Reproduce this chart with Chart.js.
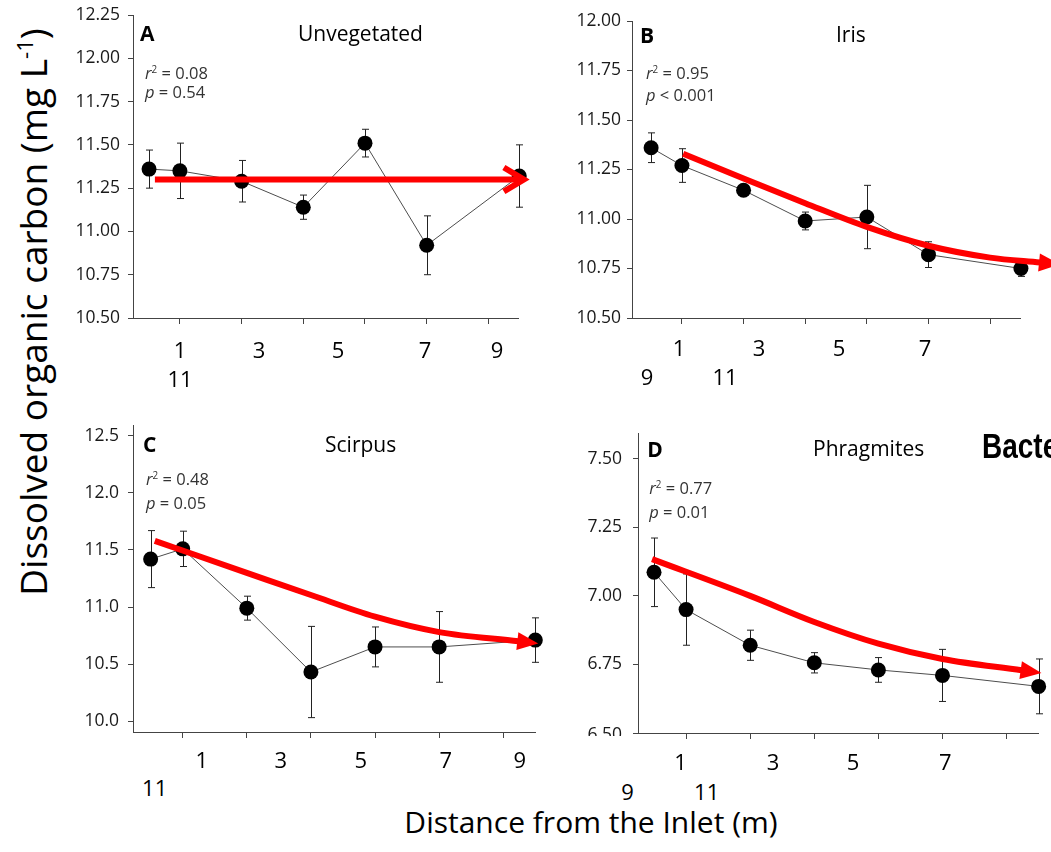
<!DOCTYPE html>
<html>
<head>
<meta charset="utf-8">
<title>Dissolved organic carbon along the beds</title>
<script src="https://cdn.jsdelivr.net/npm/chart.js@4.4.1/dist/chart.umd.min.js"></script>
<style>
  html, body { margin: 0; padding: 0; background: #fff; }
  body { position: relative; width: 1051px; height: 852px; overflow: hidden; font-family: 'Open Sans', sans-serif; }
  canvas { position: absolute; }
  .txt { position: absolute; white-space: nowrap; line-height: 1; color: #000; }
  .stat { color: #333; }
  .stat i { font-style: italic; }
  sup { font-size: 0.6em; line-height: 0; vertical-align: 0.6em; }
  .clip { position: absolute; overflow: hidden; }
</style>
</head>
<body>
<script>
// distance from the inlet (m) of each sampling point, same for all beds
var distance = [0, 1, 3, 5, 7, 9, 12];
var xTicks = [1, 3, 5, 7, 9, 11];
var xTickLabels = ['1', '3', '5', '7', '9', '11'];

// A - unvegetated
var docA = [11.36, 11.35, 11.29, 11.14, 11.51, 10.92, 11.32];
var errA = [0.11, 0.16, 0.12, 0.07, 0.08, 0.17, 0.18];
var trendAx = [0.19, 12.15];
var trendAy = [11.30, 11.30];
var yTicksA = [10.5, 10.75, 11, 11.25, 11.5, 11.75, 12, 12.25];

// B - iris
var docB = [11.36, 11.27, 11.145, 10.99, 11.01, 10.82, 10.75];
var errB = [0.075, 0.085, 0.02, 0.045, 0.16, 0.065, 0.04];
var trendBx = [1.04, 3, 5, 7, 9, 11, 12.62];
var trendBy = [11.33, 11.205, 11.08, 10.96, 10.865, 10.805, 10.78];
var yTicksB = [10.5, 10.75, 11, 11.25, 11.5, 11.75, 12];

// C - scirpus
var docC = [11.42, 11.51, 10.99, 10.43, 10.65, 10.65, 10.71];
var errC = [0.25, 0.155, 0.105, 0.40, 0.175, 0.31, 0.195];
var trendCx = [0.13, 3, 5, 7, 9, 11.47];
var trendCy = [11.58, 11.30, 11.105, 10.915, 10.78, 10.70];
var yTicksC = [10, 10.5, 11, 11.5, 12, 12.5];

// D - phragmites
var docD = [7.086, 6.95, 6.82, 6.756, 6.73, 6.71, 6.67];
var errD = [0.125, 0.13, 0.055, 0.037, 0.045, 0.095, 0.1];
var trendDx = [-0.06, 3, 5, 7, 9, 11.47];
var trendDy = [7.134, 7.0, 6.905, 6.826, 6.77, 6.729];
var yTicksD = [6.5, 6.75, 7, 7.25, 7.5];

var panels = [
  { letter: 'A', title: 'Unvegetated', r2: '0.08', p: '= 0.54',
    doc: docA, err: errA, tx: trendAx, ty: trendAy, yTicks: yTicksA, digits: 2, hide: [],
    xRange: [-0.52, 11.96], yRange: [10.5, 12.25], head: 'open',
    box: [60, 0, 480, 335], area: [133, 15, 518, 318], tickPad: 8,
    letterAt: [140, 42], titleAt: [298, 41.7], statAt: [145, 80, 99],
    labelsAt: [[180, 358], [259, 358], [338, 358], [425, 358], [497, 358], [180, 387]] },
  { letter: 'B', title: 'Iris', r2: '0.95', p: '&lt; 0.001',
    doc: docB, err: errB, tx: trendBx, ty: trendBy, yTicks: yTicksB, digits: 2, hide: [],
    xRange: [-0.62, 11.97], yRange: [10.5, 12.0], head: 'filled',
    box: [560, 0, 491, 335], area: [632, 21, 1020, 318], tickPad: 6,
    letterAt: [640, 43.3], titleAt: [836, 43], statAt: [646, 79.5, 101.5],
    labelsAt: [[679, 356], [759, 356], [839, 356], [925, 356], [647, 385], [725, 385]] },
  { letter: 'C', title: 'Scirpus', r2: '0.48', p: '= 0.05',
    doc: docC, err: errC, tx: trendCx, ty: trendCy, yTicks: yTicksC, digits: 1, hide: [],
    xRange: [-0.55, 11.99], yRange: [9.904, 12.596], head: 'filled',
    box: [60, 415, 490, 335], area: [133, 425, 535, 732], tickPad: 9,
    letterAt: [143, 452.3], titleAt: [325, 452.3], statAt: [146, 486, 509.3],
    labelsAt: [[201.7, 768], [280.8, 768], [360.8, 768], [445.8, 768], [519.7, 768], [154.7, 796]] },
  { letter: 'D', title: 'Phragmites', r2: '0.77', p: '= 0.01',
    doc: docD, err: errD, tx: trendDx, ty: trendDy, yTicks: yTicksD, digits: 2, hide: [6.5],
    xRange: [-0.5, 11.98], yRange: [6.5, 7.594], head: 'filled',
    box: [560, 420, 491, 325], area: [638, 433, 1038, 733], tickPad: 11,
    letterAt: [647.3, 457.3], titleAt: [813, 457], statAt: [649.3, 495, 518.3],
    labelsAt: [[680.5, 770], [773, 770], [853, 770], [945.3, 770], [627.5, 800], [706.7, 800]] }
];

// error bars go under the markers
var errorBars = {
  id: 'errorBars',
  beforeDatasetsDraw: function (chart) {
    var ds = chart.data.datasets[1];
    var meta = chart.getDatasetMeta(1);
    var yScale = chart.scales.y;
    var ctx = chart.ctx;
    ctx.save();
    ctx.strokeStyle = '#222';
    ctx.lineWidth = 1;
    meta.data.forEach(function (pt, i) {
      var v = ds.data[i].y;
      var top = yScale.getPixelForValue(v + ds.errors[i]);
      var bot = yScale.getPixelForValue(v - ds.errors[i]);
      var x = Math.round(pt.x) + 0.5;
      ctx.beginPath();
      ctx.moveTo(x, top); ctx.lineTo(x, bot);
      ctx.moveTo(x - 3.5, top); ctx.lineTo(x + 3.5, top);
      ctx.moveTo(x - 3.5, bot); ctx.lineTo(x + 3.5, bot);
      ctx.stroke();
    });
    ctx.restore();
  }
};

// head on the end of the red trend line
var arrowHead = {
  id: 'arrowHead',
  afterDatasetsDraw: function (chart) {
    var ds = chart.data.datasets[0];
    var pts = chart.getDatasetMeta(0).data;
    var end = pts[pts.length - 1];
    var prev = pts[pts.length - 2];
    var fx = end.cp1x, fy = end.cp1y;
    if (fx === undefined || Math.abs(end.x - fx) + Math.abs(end.y - fy) < 0.5) {
      fx = prev.x; fy = prev.y;
    }
    var dx = end.x - fx, dy = end.y - fy;
    var len = Math.sqrt(dx * dx + dy * dy);
    dx /= len; dy /= len;
    var nx = -dy, ny = dx;
    var ctx = chart.ctx;
    ctx.save();
    ctx.strokeStyle = ds.borderColor;
    ctx.fillStyle = ds.borderColor;
    if (ds.arrowHead === 'open') {
      var L = 20, W = 12;
      ctx.lineWidth = ds.borderWidth;
      ctx.lineJoin = 'miter';
      ctx.beginPath();
      ctx.moveTo(end.x - L * dx + W * nx, end.y - L * dy + W * ny);
      ctx.lineTo(end.x, end.y);
      ctx.lineTo(end.x - L * dx - W * nx, end.y - L * dy - W * ny);
      ctx.stroke();
    } else {
      var L2 = 20, W2 = 9;
      ctx.beginPath();
      ctx.moveTo(end.x + L2 * dx, end.y + L2 * dy);
      ctx.lineTo(end.x - dx + W2 * nx, end.y - dy + W2 * ny);
      ctx.lineTo(end.x - dx - W2 * nx, end.y - dy - W2 * ny);
      ctx.closePath();
      ctx.fill();
    }
    ctx.restore();
  }
};

function addText(html, x, baseline, size, cls, center) {
  var d = document.createElement('div');
  d.className = 'txt ' + (cls || '');
  d.innerHTML = html;
  d.style.fontSize = size + 'px';
  d.style.left = x + 'px';
  d.style.top = (baseline - 0.888 * size) + 'px';
  if (center) d.style.transform = 'translateX(-50%)';
  document.body.appendChild(d);
  return d;
}

function makePanel(pn) {
  var b = pn.box, a = pn.area;
  var xAxisH = 10;
  var c = document.createElement('canvas');
  c.width = b[2]; c.height = b[3];
  c.style.left = b[0] + 'px'; c.style.top = b[1] + 'px';
  c.style.width = b[2] + 'px'; c.style.height = b[3] + 'px';
  document.body.appendChild(c);

  var points = distance.map(function (d, i) { return { x: d, y: pn.doc[i] }; });
  var trend = pn.tx.map(function (d, i) { return { x: d, y: pn.ty[i] }; });

  new Chart(c, {
    type: 'line',
    data: {
      datasets: [
        { data: trend, borderColor: 'rgb(255,0,0)', borderWidth: 6, pointRadius: 0,
          cubicInterpolationMode: 'monotone', clip: false, order: 0, arrowHead: pn.head },
        { data: points, errors: pn.err, borderColor: '#4d4d4d', borderWidth: 1,
          pointRadius: 7.5, pointBackgroundColor: '#000', pointBorderColor: '#000',
          pointBorderWidth: 0, clip: false, order: 1 }
      ]
    },
    options: {
      responsive: false,
      animation: false,
      devicePixelRatio: 1,
      events: [],
      layout: { padding: { left: 0, top: a[1] - b[1], right: b[0] + b[2] - a[2], bottom: b[1] + b[3] - a[3] - xAxisH } },
      plugins: { legend: { display: false }, tooltip: { enabled: false } },
      scales: {
        x: {
          type: 'linear', min: pn.xRange[0], max: pn.xRange[1],
          afterBuildTicks: function (s) { s.ticks = xTicks.map(function (v) { return { value: v }; }); },
          afterFit: function (s) { s.height = xAxisH; s.paddingLeft = 0; s.paddingRight = 0; },
          ticks: { display: false },
          grid: { drawOnChartArea: false, drawTicks: true, tickLength: 6, color: '#444' },
          border: { color: '#444', width: 1 }
        },
        y: {
          type: 'linear', min: pn.yRange[0], max: pn.yRange[1],
          afterBuildTicks: function (s) { s.ticks = pn.yTicks.map(function (v) { return { value: v }; }); },
          afterFit: function (s) { s.width = a[0] - b[0]; s.paddingTop = 0; s.paddingBottom = 0; },
          ticks: {
            padding: pn.tickPad, color: '#1a1a1a', font: { family: 'Open Sans', size: 17.5 },
            callback: function (v) { return pn.hide.indexOf(v) >= 0 ? '' : v.toFixed(pn.digits); }
          },
          grid: { drawOnChartArea: false, drawTicks: true, tickLength: 5, color: '#444' },
          border: { color: '#444', width: 1 }
        }
      }
    },
    plugins: [errorBars, arrowHead]
  });

  addText(pn.letter, pn.letterAt[0], pn.letterAt[1], 21).style.fontWeight = 'bold';
  addText(pn.title, pn.titleAt[0], pn.titleAt[1], 21);
  addText('<i>r</i><sup>2</sup> = ' + pn.r2, pn.statAt[0], pn.statAt[1], 16.5, 'stat');
  addText('<i>p</i> ' + pn.p, pn.statAt[0], pn.statAt[2], 16.5, 'stat');
  xTickLabels.forEach(function (t, i) {
    addText(t, pn.labelsAt[i][0], pn.labelsAt[i][1], 22, '', true);
  });
}

panels.forEach(makePanel);

// bottom label of panel D is cut off by the axis in the original
var cut = document.createElement('div');
cut.className = 'clip';
cut.style.left = '580px'; cut.style.top = '725px'; cut.style.width = '42px'; cut.style.height = '11px';
cut.innerHTML = '<div class="txt" style="right:0;top:0;font-size:17.5px;color:#1a1a1a">6.50</div>';
document.body.appendChild(cut);

// shared axis titles
var yTitle = addText('Dissolved organic carbon (mg L<sup>-1</sup>)', 31.5, 0, 37);
yTitle.style.top = '312px';
yTitle.style.transform = 'translate(-50%, -50%) rotate(-90deg)';
var xTitle = addText('Distance from the Inlet (m)', 591, 834, 30, '', true);

var bacte = addText('Bacte', 982, 458, 35);
bacte.style.fontFamily = "'Liberation Sans', Arial, sans-serif";
bacte.style.fontWeight = 'bold';
bacte.style.top = (458 - 0.8465 * 35) + 'px';
bacte.style.transform = 'scaleX(0.8)';
bacte.style.transformOrigin = 'left';
</script>
</body>
</html>
